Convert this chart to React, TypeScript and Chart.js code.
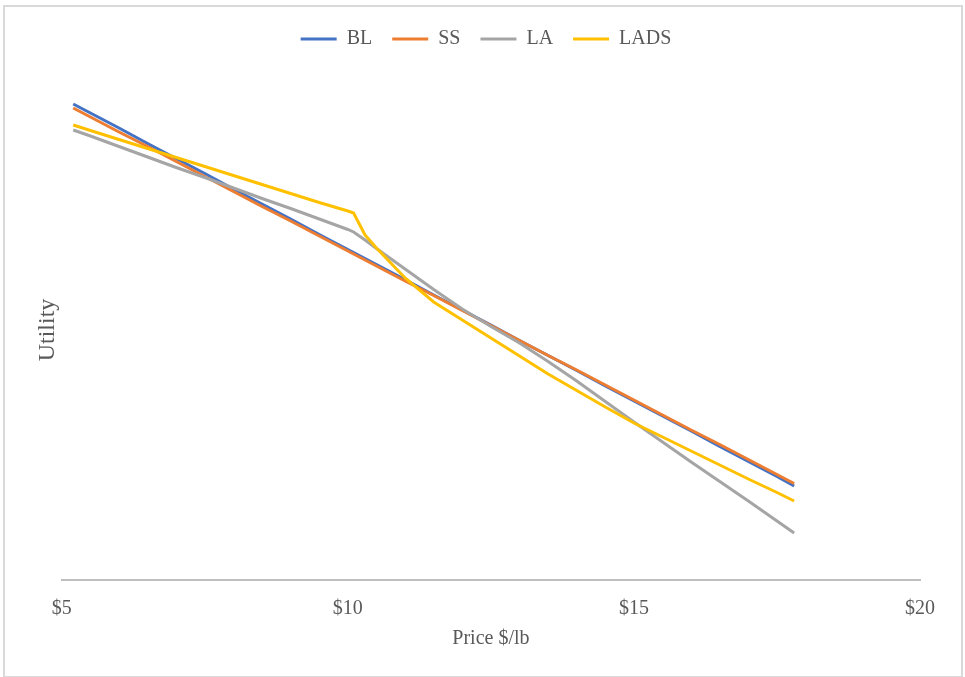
import React, { useEffect, useRef } from "react";
import { Chart, registerables } from "chart.js";

Chart.register(...registerables);

const prices = [5.2, 5.5, 6.0, 6.5, 7.0, 7.5, 8.0, 8.5, 9.0, 9.5, 10.0, 10.1, 10.2, 10.3, 10.5, 11.0, 11.5, 12.0, 12.5, 13.0, 13.5, 14.0, 14.5, 15.0, 15.5, 16.0, 16.5, 17.0, 17.5, 17.8];

const blUtility = [9.52, 9.34, 9.04, 8.73, 8.43, 8.13, 7.82, 7.52, 7.22, 6.91, 6.61, 6.55, 6.49, 6.43, 6.31, 6.01, 5.70, 5.40, 5.10, 4.79, 4.49, 4.19, 3.88, 3.58, 3.28, 2.98, 2.67, 2.37, 2.07, 1.88];

const ssUtility = [9.44, 9.26, 8.96, 8.67, 8.37, 8.07, 7.77, 7.47, 7.18, 6.88, 6.58, 6.52, 6.46, 6.40, 6.28, 5.98, 5.69, 5.39, 5.09, 4.79, 4.49, 4.20, 3.90, 3.60, 3.30, 3.00, 2.71, 2.41, 2.11, 1.93];

const laUtility = [9.00, 8.88, 8.67, 8.46, 8.25, 8.05, 7.84, 7.63, 7.43, 7.22, 7.01, 6.96, 6.88, 6.80, 6.63, 6.22, 5.81, 5.42, 5.07, 4.74, 4.37, 3.98, 3.57, 3.16, 2.76, 2.36, 1.97, 1.58, 1.18, 0.94];

const ladsUtility = [9.10, 8.99, 8.81, 8.63, 8.45, 8.27, 8.09, 7.91, 7.73, 7.55, 7.38, 7.34, 7.12, 6.90, 6.64, 6.04, 5.56, 5.20, 4.84, 4.48, 4.12, 3.79, 3.46, 3.14, 2.86, 2.58, 2.30, 2.02, 1.75, 1.58];

const seriesNames = ["BL", "SS", "LA", "LADS"];
const seriesColors = ["#4472C4", "#ED7D31", "#A5A5A5", "#FFC000"];
const xTicks = [5, 10, 15, 20];

const FONT = "'Liberation Serif', 'Times New Roman', serif";
const TEXT = "#595959";

export default function App() {
  const ref = useRef<HTMLCanvasElement | null>(null);

  useEffect(() => {
    if (!ref.current) return;
    const all = [blUtility, ssUtility, laUtility, ladsUtility];
    const legendSpacer = {
      id: "legendSpacer",
      beforeInit(chart: any) {
        const orig = chart.legend.fit;
        chart.legend.fit = function () {
          orig.call(this);
          this.height += 21;
        };
      },
      afterLayout(chart: any) {
        chart.legend.left += 11;
        chart.legend.right += 11;
      },
    };
    const chart = new Chart(ref.current, {
      type: "line",
      data: {
        datasets: all.map((vals, i) => ({
          label: seriesNames[i],
          data: prices.map((p, j) => ({ x: p, y: vals[j] })),
          borderColor: seriesColors[i],
          backgroundColor: seriesColors[i],
          borderWidth: 3,
          pointRadius: 0,
          pointHoverRadius: 0,
          tension: 0,
          fill: false,
          order: 4 - i,
        })),
      },
      options: {
        animation: false,
        responsive: false,
        maintainAspectRatio: false,
        layout: { padding: { left: 30, right: 45, top: 9, bottom: 8 } },
        plugins: {
          tooltip: { enabled: false },
          legend: {
            position: "top",
            labels: {
              usePointStyle: true,
              pointStyle: "line",
              pointStyleWidth: 36,
              padding: 20,
              color: TEXT,
              font: { family: FONT, size: 20 },
              sort: (a: any, b: any) => a.datasetIndex - b.datasetIndex,
            },
          },
        },
        scales: {
          x: {
            type: "linear",
            min: 5,
            max: 20,
            afterBuildTicks: (axis: any) => {
              axis.ticks = xTicks.map((v) => ({ value: v }));
            },
            afterFit: (axis: any) => {
              axis.height = 89;
            },
            grid: { display: false, drawTicks: false },
            border: { display: true, color: "#BFBFBF", width: 2 },
            ticks: {
              color: TEXT,
              font: { family: FONT, size: 20 },
              padding: 17,
              maxRotation: 0,
              callback: (v: any) => "$" + v,
            },
            title: {
              display: true,
              text: "Price $/lb",
              color: TEXT,
              font: { family: FONT, size: 20 },
              padding: { top: 2, bottom: 18 },
            },
          },
          y: {
            type: "linear",
            min: 0,
            max: 10,
            grid: { display: false, drawTicks: false },
            border: { display: false },
            ticks: { display: false },
            title: {
              display: true,
              text: "Utility",
              color: TEXT,
              font: { family: FONT, size: 24 },
              padding: { top: 3, bottom: 0 },
            },
          },
        },
      },
      plugins: [legendSpacer],
    });
    return () => chart.destroy();
  }, []);

  return (
    <div style={{ position: "fixed", left: 0, top: 0, width: 965, height: 677, background: "#fff" }}>
      <div
        style={{
          position: "absolute",
          left: 3,
          top: 5,
          width: 956,
          height: 669,
          border: "2px solid #D9D9D9",
        }}
      />
      <canvas ref={ref} width={965} height={677} style={{ position: "absolute", left: 0, top: 0 }} />
    </div>
  );
}
